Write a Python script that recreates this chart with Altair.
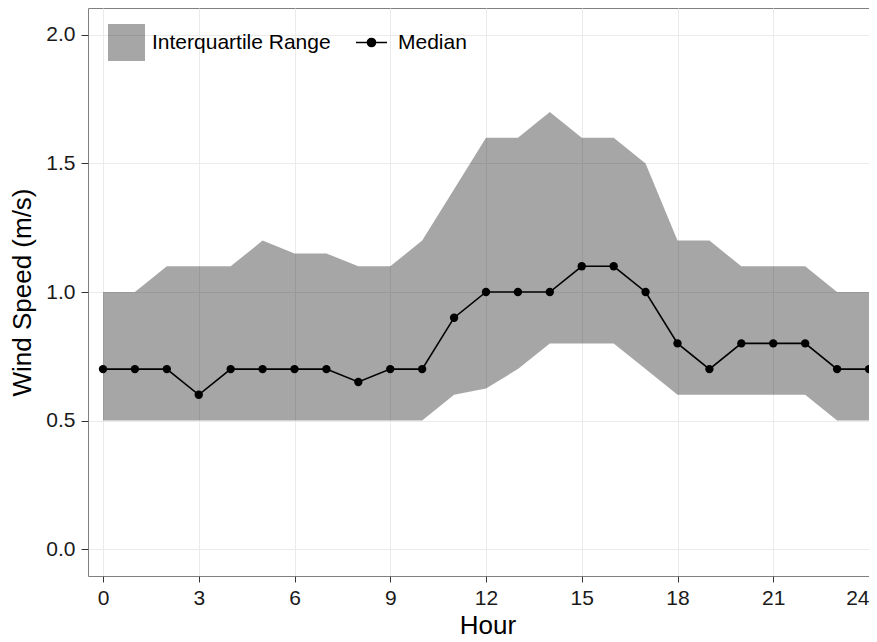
import pandas as pd
import altair as alt

# hourly wind speed summary
hours = [0, 1, 2, 3, 4, 5, 6, 7, 8, 9, 10, 11, 12,
         13, 14, 15, 16, 17, 18, 19, 20, 21, 22, 23, 24]
median = [0.7, 0.7, 0.7, 0.6, 0.7, 0.7, 0.7, 0.7, 0.65, 0.7, 0.7, 0.9, 1.0,
          1.0, 1.0, 1.1, 1.1, 1.0, 0.8, 0.7, 0.8, 0.8, 0.8, 0.7, 0.7]
q1 = [0.5, 0.5, 0.5, 0.5, 0.5, 0.5, 0.5, 0.5, 0.5, 0.5, 0.5, 0.6, 0.625,
      0.7, 0.8, 0.8, 0.8, 0.7, 0.6, 0.6, 0.6, 0.6, 0.6, 0.5, 0.5]
q3 = [1.0, 1.0, 1.1, 1.1, 1.1, 1.2, 1.15, 1.15, 1.1, 1.1, 1.2, 1.4, 1.6,
      1.6, 1.7, 1.6, 1.6, 1.5, 1.2, 1.2, 1.1, 1.1, 1.1, 1.0, 1.0]

x_ticks = [0, 3, 6, 9, 12, 15, 18, 21, 24]
y_ticks = [0.0, 0.5, 1.0, 1.5, 2.0]

df = pd.DataFrame({'hour': hours, 'median': median, 'q1': q1, 'q3': q3})
df['iqr_lab'] = 'Interquartile Range'
df['med_lab'] = 'Median'

FONT = 'Liberation Sans'

# the panel runs off the right edge of the picture, so it stops at hour 24
x_axis = alt.Axis(values=x_ticks, title='Hour', format='d',
                  labelFontSize=21, labelPadding=5, tickSize=6,
                  titleFontSize=26, titleFontWeight='normal',
                  titleX=399.5, titleY=57.5, titleBaseline='alphabetic')
y_axis = alt.Axis(values=y_ticks, format='.1f', title='Wind Speed (m/s)',
                  labelFontSize=21, labelPadding=6, tickSize=7,
                  titleFontSize=26, titleFontWeight='normal',
                  titleX=-53, titleY=284, titleBaseline='bottom')

x_scale = alt.Scale(domain=[-0.47, 24], nice=False, zero=False)
y_scale = alt.Scale(domain=[-0.105, 2.105], nice=False, zero=False)

# shaded interquartile band
band = alt.Chart(df).mark_area(opacity=0.35).encode(
    x=alt.X('hour:Q', scale=x_scale, axis=x_axis),
    y=alt.Y('q3:Q', scale=y_scale, axis=y_axis),
    y2='q1:Q',
    fill=alt.Fill('iqr_lab:N', scale=alt.Scale(range=['#000000']),
                  legend=alt.Legend(title=None, orient='none', legendX=20, legendY=16,
                                    symbolType='square', symbolSize=1369,
                                    symbolOpacity=0.35, symbolStrokeWidth=0,
                                    labelFontSize=21, labelOffset=7, labelLimit=400,
                                    padding=0))
)

line = alt.Chart(df).mark_line(color='black', strokeWidth=1.6).encode(
    x=alt.X('hour:Q', scale=x_scale, axis=x_axis),
    y=alt.Y('median:Q', scale=y_scale, axis=y_axis)
)

# legend symbol: short line with a dot in the middle
med_symbol = 'M-1,0L1,0M0.26,0A0.26,0.26,0,1,1,-0.26,0A0.26,0.26,0,1,1,0.26,0Z'

dots = alt.Chart(df).mark_point(filled=True, size=70, opacity=1).encode(
    x=alt.X('hour:Q', scale=x_scale, axis=x_axis),
    y=alt.Y('median:Q', scale=y_scale, axis=y_axis),
    color=alt.Color('med_lab:N', scale=alt.Scale(range=['#000000']),
                    legend=alt.Legend(title=None, orient='none', legendX=267, legendY=18,
                                      symbolType=med_symbol, symbolSize=961,
                                      symbolFillColor='black', symbolStrokeColor='black',
                                      symbolStrokeWidth=1.6, labelFontSize=21,
                                      labelOffset=10, labelLimit=400, padding=0))
)

chart = alt.layer(band, line, dots).properties(
    width=781, height=568,
    padding={'left': 80, 'top': 0, 'right': 0, 'bottom': 58},
    autosize=alt.AutoSizeParams(type='none')
).configure_view(
    stroke='#808080', strokeWidth=1
).configure_axis(
    labelFont=FONT, titleFont=FONT, labelColor='#1a1a1a', titleColor='#000000',
    tickColor='#333333', domain=False, gridColor='#ebebeb', gridWidth=1
).configure_legend(
    labelFont=FONT, labelColor='#000000'
)

chart.save('out.html', embed_options={'renderer': 'svg', 'actions': False})
